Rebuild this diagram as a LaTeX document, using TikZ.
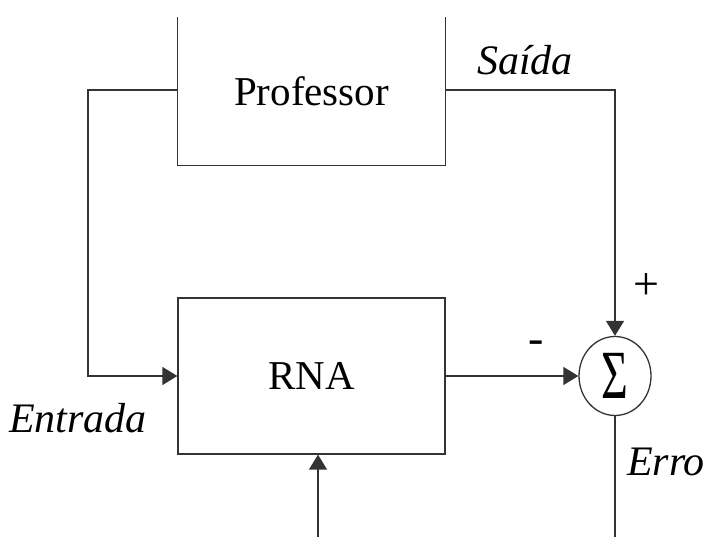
\documentclass[tikz,border=0pt]{standalone}
\usepackage{fontspec}
\setmainfont{Liberation Serif}
\usetikzlibrary{arrows.meta,positioning,shapes.geometric}
\tikzset{
  blockbox/.style={minimum width=267pt,inner sep=0pt,font=\fontsize{41}{48}\selectfont},
  lbl/.style={font=\fontsize{42}{48}\selectfont\itshape},
  sgn/.style={font=\fontsize{46}{52}\selectfont}
}

\begin{document}
\begin{tikzpicture}[x=1pt,y=1pt,line width=1.3pt,draw=black!80,
    >={Triangle[length=15pt,width=18pt]}]
  \useasboundingbox (0,0) rectangle (706,537);
  \node[blockbox,minimum height=147pt] (prof) at (311.5,445.5) {Professor};
  \node[blockbox,minimum height=156pt,draw] (rna) at (311.5,161) {RNA};
  \node[ellipse,draw,minimum width=72pt,minimum height=79pt,inner sep=0pt] (sum) at (615,161)
    {\fontsize{46}{50}\selectfont\scalebox{1}[1.5]{Σ}};
  \coordinate (in) at (88,447);
  \coordinate (fb) at (318,0);
  \coordinate (err) at (615,0);
  \draw (prof.north west) -- (prof.south west) -- (prof.south east) -- (prof.north east);
  \draw[->] (prof.west |- in) -- (in) |- (rna.west);
  \draw[->] (prof.east |- in) -| (sum.north);
  \draw[->] (rna.east) -- (sum.west);
  \draw (sum.south) -- (err);
  \draw[->] (fb) -- (fb |- rna.south);
  \node[lbl] (saida) at (525,477) {Saída};
  \node[lbl] (entrada) at (78,119) {Entrada};
  \node[lbl] (erro) at (666,75) {Erro};
  \node[sgn] (plus) at (646,250) {+};
  \node[sgn] (minus) at (536,190) {-};
\end{tikzpicture}
\end{document}
